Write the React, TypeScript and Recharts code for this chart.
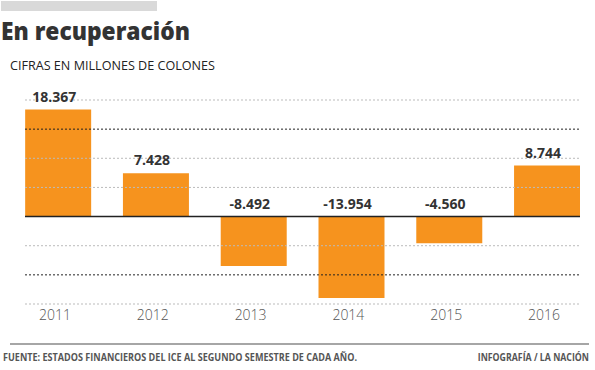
import { Bar, BarChart, LabelList, ReferenceLine, XAxis, YAxis } from 'recharts'

const years = ['2011', '2012', '2013', '2014', '2015', '2016']
const values = [18367, 7428, -8492, -13954, -4560, 8744]
const valueLabels = ['18.367', '7.428', '-8.492', '-13.954', '-4.560', '8.744']
const gridValues = [20000, 15000, 10000, 5000, -5000, -10000, -15000]
const darkGridValues = [15000, -10000]

const FONT = '"Open Sans", sans-serif'
const ORANGE = '#F6931E'

const chartData = years.map((year, i) => ({ idx: i, year, value: values[i] }))

// label sits above the bar top, or above the zero line for negative bars
function ValueLabel(props: any) {
    const { x, y, width, height, index } = props
    const top = Math.min(y, y + height)
    return (
        <text
            x={x + width / 2 - 4}
            y={top - 8}
            textAnchor="middle"
            fontFamily={FONT}
            fontWeight={700}
            fontSize={14}
            fill="#333"
        >
            {valueLabels[index]}
        </text>
    )
}

function YearTick(props: any) {
    const { x, y, payload } = props
    return (
        <text
            x={x - 3}
            y={y + 8}
            textAnchor="middle"
            fontFamily={FONT}
            fontWeight={300}
            fontSize={14}
            fill="#555"
        >
            {years[payload.value]}
        </text>
    )
}

export default function App() {
    return (
        <div style={{ position: 'absolute', left: 0, top: 0, width: 595, height: 370, background: '#fff' }}>
            <svg width={595} height={370} style={{ position: 'absolute', left: 0, top: 0 }}>
                <rect x={1} y={1} width={156} height={10} fill="#d9d9d9" />
                <text x={1} y={40} fontFamily={FONT} fontWeight={800} fontSize={24} fill="#333"
                    textLength={189} lengthAdjust="spacingAndGlyphs">
                    En recuperación
                </text>
                <text x={10} y={70} fontFamily={FONT} fontWeight={400} fontSize={13} fill="#222"
                    textLength={205} lengthAdjust="spacingAndGlyphs">
                    CIFRAS EN MILLONES DE COLONES
                </text>
                <line x1={10} x2={589} y1={344} y2={344} stroke="#888" strokeWidth={1.5} />
                <text x={3} y={361} fontFamily={FONT} fontWeight={700} fontSize={10} fill="#555"
                    textLength={354} lengthAdjust="spacingAndGlyphs">
                    FUENTE: ESTADOS FINANCIEROS DEL ICE AL SEGUNDO SEMESTRE DE CADA AÑO.
                </text>
                <g transform="translate(589,361) scale(0.88,1)">
                    <text x={0} y={0} textAnchor="end" fontFamily={FONT} fontWeight={700} fontSize={10} fill="#555">
                        INFOGRAFÍA / LA NACIÓN
                    </text>
                </g>
            </svg>
            <div style={{ position: 'absolute', left: 0, top: 0 }}>
                <BarChart
                    width={595}
                    height={370}
                    data={chartData}
                    margin={{ top: 100, right: 15, left: 25, bottom: 0 }}
                >
                    <XAxis
                        type="number"
                        dataKey="idx"
                        domain={[-0.338, 5.338]}
                        ticks={[0, 1, 2, 3, 4, 5]}
                        allowDataOverflow
                        axisLine={false}
                        tickLine={false}
                        tick={<YearTick />}
                        height={66}
                        interval={0}
                    />
                    <YAxis hide domain={[-15000, 20000]} allowDataOverflow />
                    {gridValues.map((v) => (
                        <ReferenceLine
                            key={v}
                            y={v}
                            stroke={darkGridValues.includes(v) ? '#222' : '#bbb'}
                            strokeWidth={1}
                            strokeDasharray="2 2"
                        />
                    ))}
                    <Bar dataKey="value" fill={ORANGE} barSize={66} isAnimationActive={false}>
                        <LabelList dataKey="value" content={<ValueLabel />} />
                    </Bar>
                    <ReferenceLine y={0} stroke="#222" strokeWidth={1.5} />
                </BarChart>
            </div>
        </div>
    )
}
